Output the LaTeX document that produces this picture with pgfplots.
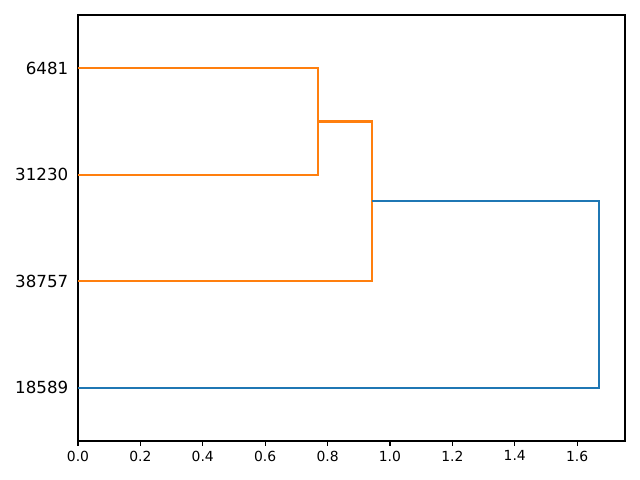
\documentclass[border=0pt]{standalone}
\usepackage{pgfplots}
\pgfplotsset{compat=1.18}
\usepackage{fontspec}
\setmainfont{DejaVu Sans}
\definecolor{cone}{HTML}{1F77B4}
\definecolor{ctwo}{HTML}{FF7F0E}
\begin{document}
\begin{tikzpicture}
\path[use as bounding box] (-56.16pt,-28.08pt) rectangle (404.64pt,317.52pt);
\begin{axis}[
  at={(0,0)}, anchor=south west,
  scale only axis, width=393.84pt, height=306.72pt,
  xmin=0, xmax=1.7535, ymin=0, ymax=40,
  xtick={0,0.2,...,1.6},
  xticklabel style={font=\fontsize{10}{12}\selectfont},
  /pgf/number format/assume math mode=true,
  xticklabel={\pgfmathprintnumber[fixed,fixed zerofill,precision=1]{\tick}},
  ytick={5,15,25,35},
  yticklabels={18589,38757,31230,6481},
  yticklabel style={font=\fontsize{12}{14}\selectfont},
  tick align=outside, xtick pos=bottom, ytick pos=left,
  major tick length=3.5pt,
  y tick style={draw=none},
  axis line style={line width=0.8pt},
  every tick/.style={line width=0.8pt, black},
]
\addplot[ctwo, line width=1.5pt] coordinates {(0,35) (0.7695,35) (0.7695,25) (0,25)};
\addplot[ctwo, line width=1.5pt] coordinates {(0.7695,30) (0.9426,30) (0.9426,15) (0,15)};
\addplot[cone, line width=1.5pt] coordinates {(0.9426,22.5) (1.6704,22.5) (1.6704,5) (0,5)};
\end{axis}
\end{tikzpicture}
\end{document}
